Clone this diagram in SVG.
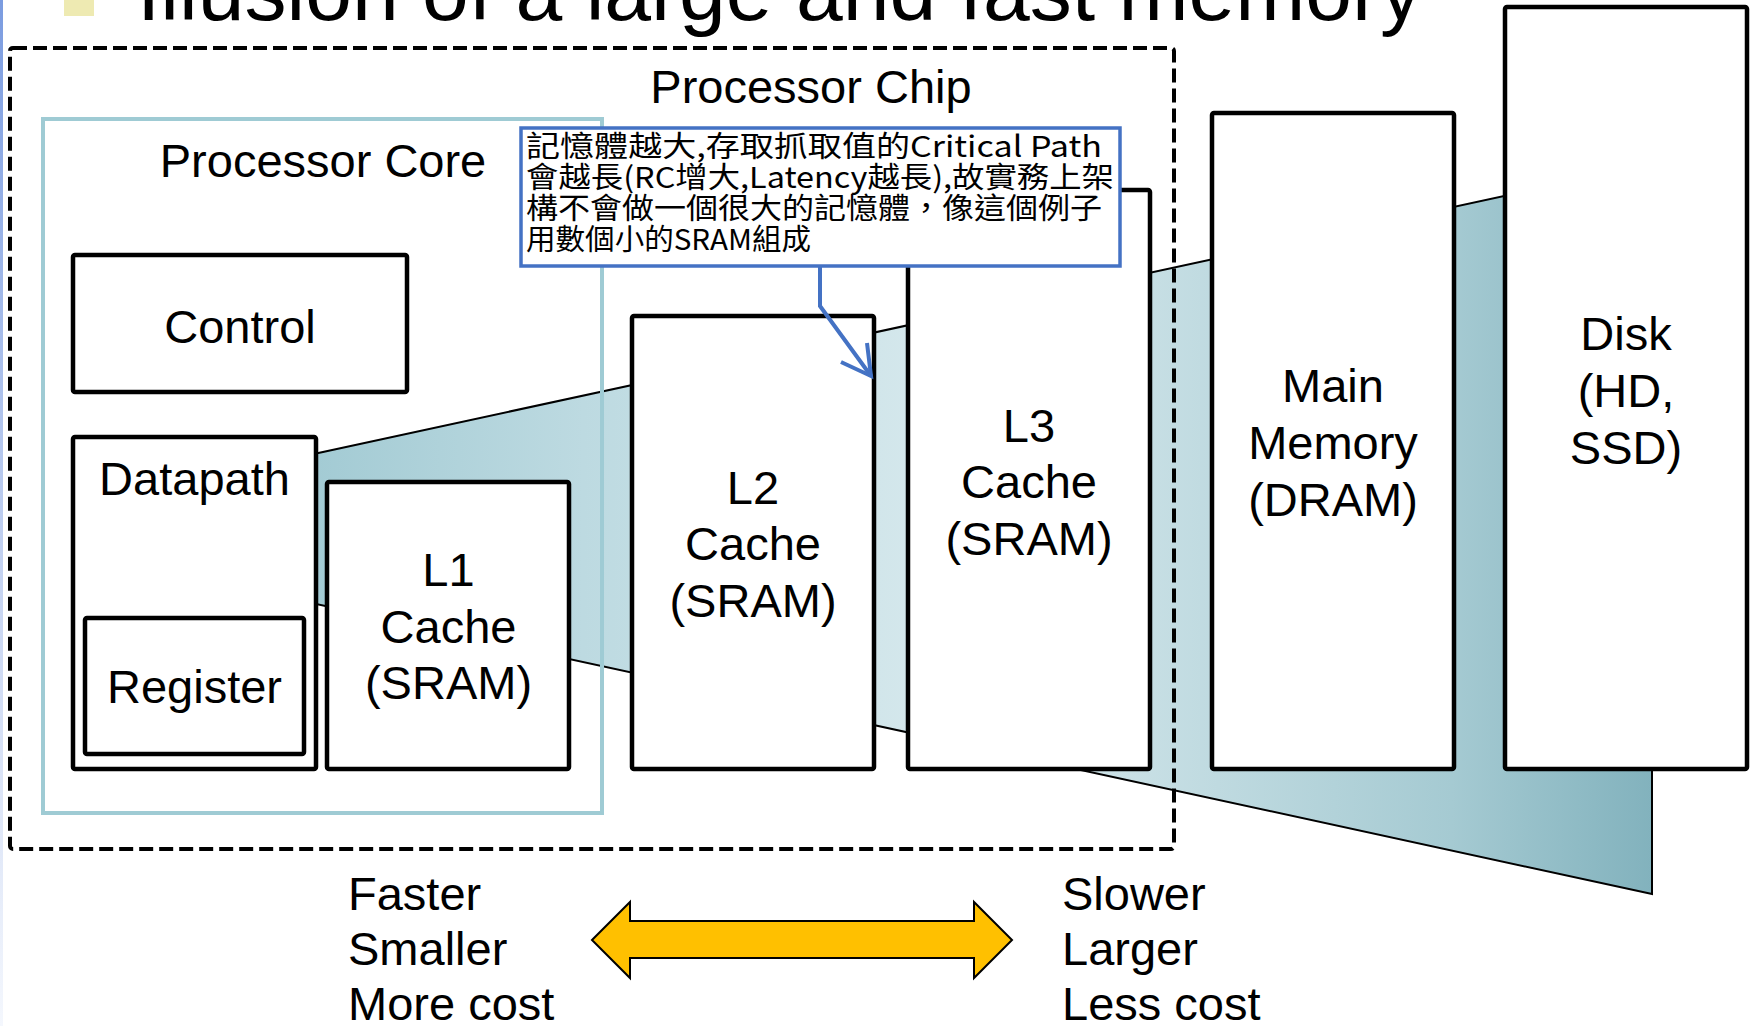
<svg xmlns="http://www.w3.org/2000/svg" width="1754" height="1026" viewBox="0 0 1754 1026">
  <defs>
    <linearGradient id="edgeGrad" x1="0" y1="0" x2="0" y2="1">
      <stop offset="0" stop-color="#7b9ce0"/>
      <stop offset="0.6" stop-color="#c9d6f2"/>
      <stop offset="1" stop-color="#f4f7fd"/>
    </linearGradient>
    <linearGradient id="wedgeGrad" gradientUnits="userSpaceOnUse" x1="316" y1="0" x2="1652" y2="0">
      <stop offset="0" stop-color="#a3cbd4"/>
      <stop offset="0.2" stop-color="#bddae1"/>
      <stop offset="0.5" stop-color="#d9eaee"/>
      <stop offset="0.85" stop-color="#a5cad2"/>
      <stop offset="1" stop-color="#82b2bd"/>
    </linearGradient>
    <style>
      .lbl { font-family: "Liberation Sans", Arial, sans-serif; font-size: 47px; fill: #000; }
      .mid { text-anchor: middle; }
      .box { fill: #ffffff; stroke: #000; stroke-width: 4.5; }
      .note { font-family: "Noto Sans CJK TC", "Noto Sans CJK JP", sans-serif; font-size: 29px; fill: #000; }
    </style>
  </defs>

  <rect width="1754" height="1026" fill="#ffffff"/>

  <!-- slide frame accent and heading -->
  <rect x="0" y="0" width="3" height="1026" fill="url(#edgeGrad)"/>
  <rect x="64" y="-20" width="30" height="36" fill="#eeeab2"/>
  <text x="137" y="20" font-family="Liberation Sans, Arial, sans-serif" font-size="84" textLength="1285" lengthAdjust="spacingAndGlyphs" fill="#000">Illusion of a large and fast memory</text>

  <!-- widening memory-hierarchy band behind the levels -->
  <polygon id="hierarchy-band" points="316,453.5 1652,164 1652,894 316,604" fill="url(#wedgeGrad)" stroke="#000" stroke-width="2"/>

  <!-- chip and core outlines -->
  <g id="processor-chip">
    <rect x="10" y="48" width="1164" height="801" rx="3" fill="none" stroke="#000" stroke-width="4" stroke-dasharray="14 6"/>
    <text class="lbl mid" x="811" y="103">Processor Chip</text>
  </g>
  <g id="processor-core">
    <rect x="43" y="119" width="559" height="694" fill="none" stroke="#9fcbd4" stroke-width="4"/>
    <text class="lbl mid" x="323" y="177">Processor Core</text>
  </g>

  <g id="control">
    <rect class="box" x="73" y="255" width="334" height="137" rx="2"/>
    <text class="lbl mid" x="240" y="343">Control</text>
  </g>

  <g id="datapath">
    <rect class="box" x="73" y="437" width="243" height="332" rx="2"/>
    <text class="lbl mid" x="194.5" y="495">Datapath</text>
  </g>

  <g id="register">
    <rect class="box" x="85" y="618" width="219" height="136" rx="2"/>
    <text class="lbl mid" x="194.5" y="703">Register</text>
  </g>

  <g id="l1-cache">
    <rect class="box" x="327" y="482" width="242" height="287" rx="2"/>
    <text class="lbl mid" x="448.5" y="586">L1</text>
    <text class="lbl mid" x="448.5" y="642.5">Cache</text>
    <text class="lbl mid" x="448.5" y="699">(SRAM)</text>
  </g>

  <g id="l2-cache">
    <rect class="box" x="632" y="316" width="242" height="453" rx="2"/>
    <text class="lbl mid" x="753" y="504">L2</text>
    <text class="lbl mid" x="753" y="560">Cache</text>
    <text class="lbl mid" x="753" y="617">(SRAM)</text>
  </g>

  <g id="l3-cache">
    <rect class="box" x="908" y="190" width="242" height="579" rx="2"/>
    <text class="lbl mid" x="1029" y="442">L3</text>
    <text class="lbl mid" x="1029" y="498">Cache</text>
    <text class="lbl mid" x="1029" y="555">(SRAM)</text>
  </g>

  <g id="main-memory">
    <rect class="box" x="1212" y="113" width="242" height="656" rx="2"/>
    <text class="lbl mid" x="1333" y="402">Main</text>
    <text class="lbl mid" x="1333" y="459">Memory</text>
    <text class="lbl mid" x="1333" y="516">(DRAM)</text>
  </g>

  <g id="disk">
    <rect class="box" x="1505" y="7" width="242" height="762" rx="2"/>
    <text class="lbl mid" x="1626" y="350">Disk</text>
    <text class="lbl mid" x="1626" y="407">(HD,</text>
    <text class="lbl mid" x="1626" y="464">SSD)</text>
  </g>

  <!-- annotation box -->
  <g id="note">
    <rect x="521" y="128" width="599" height="138" fill="#ffffff" stroke="#4472c4" stroke-width="3.5"/>
    <text class="note" x="526" y="157" textLength="576" lengthAdjust="spacingAndGlyphs">記憶體越大,存取抓取值的Critical Path</text>
    <text class="note" x="526" y="188" textLength="588" lengthAdjust="spacingAndGlyphs">會越長(RC增大,Latency越長),故實務上架</text>
    <text class="note" x="526" y="219" textLength="576" lengthAdjust="spacingAndGlyphs">構不會做一個很大的記憶體，像這個例子</text>
    <text class="note" x="526" y="250" textLength="285" lengthAdjust="spacingAndGlyphs">用數個小的SRAM組成</text>
  </g>

  <!-- connectors -->
  <g id="connectors">
    <polyline points="820,266 820,306 871,376" fill="none" stroke="#4472c4" stroke-width="4" stroke-linejoin="miter"/>
    <polyline points="867,343 871,376 841,362" fill="none" stroke="#4472c4" stroke-width="4" stroke-linejoin="miter"/>
    <polygon id="speed-size-arrow" points="592,940 630,902 630,921 974,921 974,902 1012,940 974,978 974,958 630,958 630,978" fill="#ffc000" stroke="#000" stroke-width="2" stroke-linejoin="miter"/>
  </g>

  <!-- trade-off captions -->
  <g id="fast-side">
    <text class="lbl" x="348" y="910">Faster</text>
    <text class="lbl" x="348" y="965">Smaller</text>
    <text class="lbl" x="348" y="1020">More cost</text>
  </g>
  <g id="slow-side">
    <text class="lbl" x="1062" y="910">Slower</text>
    <text class="lbl" x="1062" y="965">Larger</text>
    <text class="lbl" x="1062" y="1020">Less cost</text>
  </g>
</svg>
